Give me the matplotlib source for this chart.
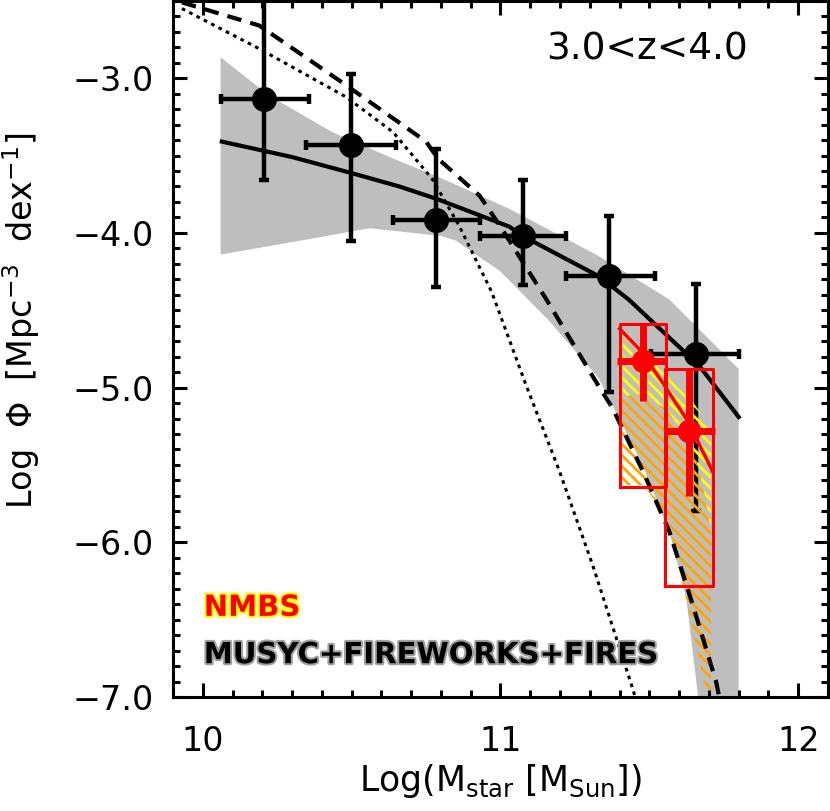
# stellar mass function, 3.0<z<4.0 panel
import numpy as np
import matplotlib
matplotlib.use("Agg")
import matplotlib.pyplot as plt
import matplotlib.patheffects as pe
from matplotlib.ticker import MultipleLocator, FixedLocator, FixedFormatter

plt.rcParams['font.family'] = ['DejaVu Sans']
plt.rcParams['hatch.linewidth'] = 2.0

# black points (MUSYC+FIREWORKS+FIRES)
mass = [10.205, 10.497, 10.785, 11.074, 11.366, 11.658]
phi = [-3.135, -3.43, -3.92, -4.02, -4.28, -4.78]
mass_lo = [10.06, 10.346, 10.64, 10.93, 11.22, 11.507]
mass_hi = [10.356, 10.648, 10.93, 11.22, 11.52, 11.80]
phi_lo = [-3.66, -4.05, -4.35, -4.34, -5.03, -5.80]
phi_hi = [-2.45, -2.97, -3.46, -3.66, -3.89, -4.33]

# red points (NMBS)
nmbs_mass = [11.477, 11.634]
nmbs_phi = [-4.83, -5.28]
nmbs_mass_lo = [11.39, 11.55]
nmbs_mass_hi = [11.56, 11.72]
nmbs_phi_lo = [-5.09, -5.70]
nmbs_phi_hi = [-4.59, -4.88]
box_x0 = [11.40, 11.554]
box_x1 = [11.557, 11.715]
box_y0 = [-5.64, -6.28]
box_y1 = [-4.59, -4.88]

# gray band
band_up_x = [10.06, 10.225, 10.436, 10.64, 10.805, 11.03, 11.33, 11.567, 11.80]
band_up_y = [-2.865, -3.115, -3.35, -3.52, -3.65, -3.845, -4.15, -4.43, -4.88]
band_lo_x = [10.06, 10.30, 10.56, 10.80, 10.85, 11.0, 11.164, 11.33, 11.477, 11.567, 11.624, 11.67, 11.80]
band_lo_y = [-4.14, -4.06, -3.97, -4.02, -4.05, -4.25, -4.57, -4.94, -5.50, -5.93, -6.36, -7.1, -7.1]

# curves
fit_x = [10.064, 10.30, 10.493, 10.66, 10.785, 11.03, 11.074, 11.33, 11.43, 11.668, 11.80]
fit_y = [-3.41, -3.51, -3.61, -3.70, -3.78, -3.96, -4.02, -4.28, -4.43, -4.86, -5.19]
dash_x = [9.93, 10.19, 10.47, 10.75, 10.79, 10.93, 11.0, 11.154, 11.32, 11.377, 11.478, 11.567, 11.645, 11.724, 11.74]
dash_y = [-2.51, -2.66, -3.03, -3.41, -3.52, -3.76, -3.96, -4.43, -4.96, -5.135, -5.54, -5.93, -6.40, -6.90, -7.05]
dot_x = [9.93, 10.19, 10.48, 10.64, 10.77, 10.86, 10.97, 11.087, 11.198, 11.31, 11.443, 11.46]
dot_y = [-2.55, -2.81, -3.12, -3.35, -3.65, -3.95, -4.38, -4.99, -5.54, -6.15, -6.94, -7.05]

# NMBS fit region (upper, middle, lower boundaries)
nm_up_x = [11.40, 11.478, 11.556, 11.645, 11.707]
nm_up_y = [-4.63, -4.77, -4.92, -5.09, -5.26]
nm_mid_x = [11.40, 11.455, 11.556, 11.645, 11.679, 11.707]
nm_mid_y = [-5.07, -5.04, -5.135, -5.39, -5.63, -5.93]
nm_lo_x = [11.40, 11.478, 11.556, 11.623, 11.69, 11.707]
nm_lo_y = [-5.63, -5.63, -5.82, -6.36, -6.96, -6.96]
nm_fit_x = [11.40, 11.47, 11.545, 11.63, 11.712]
nm_fit_y = [-4.62, -4.76, -4.97, -5.22, -5.54]

fig = plt.figure(figsize=(8.30, 8.11), dpi=100)
ax = fig.add_axes([0.2084, 0.1406, 0.7892, 0.8584])

# gray band
ax.fill(band_up_x + band_lo_x[::-1], band_up_y + band_lo_y[::-1],
        color='#bebebe', lw=0, zorder=1)

# hatched NMBS region
ax.fill(nm_up_x + nm_mid_x[::-1], nm_up_y + nm_mid_y[::-1],
        facecolor='none', edgecolor='#ffff00', hatch='\\' * 3, lw=0, zorder=3)
ax.fill(nm_mid_x + nm_lo_x[::-1], nm_mid_y + nm_lo_y[::-1],
        facecolor='none', edgecolor='#ffa500', hatch='\\' * 3, lw=0, zorder=3)

# black error bars
xerr = [np.array(mass) - np.array(mass_lo), np.array(mass_hi) - np.array(mass)]
yerr = [np.array(phi) - np.array(phi_lo), np.array(phi_hi) - np.array(phi)]
ax.errorbar(mass, phi, xerr=xerr, yerr=yerr, fmt='o', color='black', ms=17,
            elinewidth=3.2, capsize=3.5, capthick=3.2, zorder=2)

# curves
ax.plot(fit_x, fit_y, color='black', lw=3, zorder=4)
ax.plot(dash_x, dash_y, color='black', lw=3, ls=(0, (3.5, 2.2)), zorder=4)
ax.plot(dot_x, dot_y, color='black', lw=2.2, ls=(0, (1.2, 1.5)), zorder=4)
ax.plot(nm_fit_x, nm_fit_y, color='red', lw=2.5, zorder=5)

# NMBS boxes and points
for x0, x1, y0, y1 in zip(box_x0, box_x1, box_y0, box_y1):
    ax.plot([x0, x1, x1, x0, x0], [y0, y0, y1, y1, y0], color='red', lw=2.2, zorder=6)
nxerr = [np.array(nmbs_mass) - np.array(nmbs_mass_lo), np.array(nmbs_mass_hi) - np.array(nmbs_mass)]
nyerr = [np.array(nmbs_phi) - np.array(nmbs_phi_lo), np.array(nmbs_phi_hi) - np.array(nmbs_phi)]
ax.errorbar(nmbs_mass, nmbs_phi, xerr=nxerr, yerr=nyerr, fmt='o', color='red', ms=16,
            elinewidth=5, capsize=0, zorder=7)

# axes
ax.set_xlim(9.9, 12.1)
ax.set_ylim(-7.0, -2.5)
ax.xaxis.set_major_locator(FixedLocator([10, 11, 12]))
ax.xaxis.set_major_formatter(FixedFormatter(['10', '11', '12']))
ax.xaxis.set_minor_locator(MultipleLocator(0.1))
ax.yaxis.set_major_locator(FixedLocator([-7, -6, -5, -4, -3]))
ax.yaxis.set_major_formatter(FixedFormatter(['\u22127.0', '\u22126.0', '\u22125.0', '\u22124.0', '\u22123.0']))
ax.yaxis.set_minor_locator(MultipleLocator(0.1))
ax.tick_params(which='both', direction='in', top=True, right=True, width=2.2, labelsize=24)
ax.tick_params(which='major', length=10)
ax.tick_params(which='minor', length=5)
ax.tick_params(axis='x', which='major', pad=20)
ax.tick_params(axis='y', which='major', pad=14)
for s in ax.spines.values():
    s.set_linewidth(2.2)

ax.set_xlabel('Log(M$_{\\rm star}$ [M$_{\\rm Sun}$])', fontsize=25)
ax.xaxis.set_label_coords(0.5, -0.093)
ax.set_ylabel('Log  \u03a6  [Mpc$^{-3}$  dex$^{-1}$]', fontsize=24)
ax.yaxis.set_label_coords(-0.2, 0.54)

ax.text(0.724, 0.93, '3.0<z<4.0', transform=ax.transAxes, fontsize=27, ha='center', va='center')
ax.text(0.047, 0.128, 'NMBS', transform=ax.transAxes, fontsize=21, color='red', fontweight='bold',
        va='center', path_effects=[pe.withStroke(linewidth=3, foreground='#ffff00')], zorder=8)
ax.text(0.047, 0.060, 'MUSYC+FIREWORKS+FIRES', transform=ax.transAxes, fontsize=21, color='black',
        va='center', fontweight='bold', path_effects=[pe.withStroke(linewidth=3, foreground='#a0a0a0')], zorder=8)

plt.savefig('out.png', dpi=100)
